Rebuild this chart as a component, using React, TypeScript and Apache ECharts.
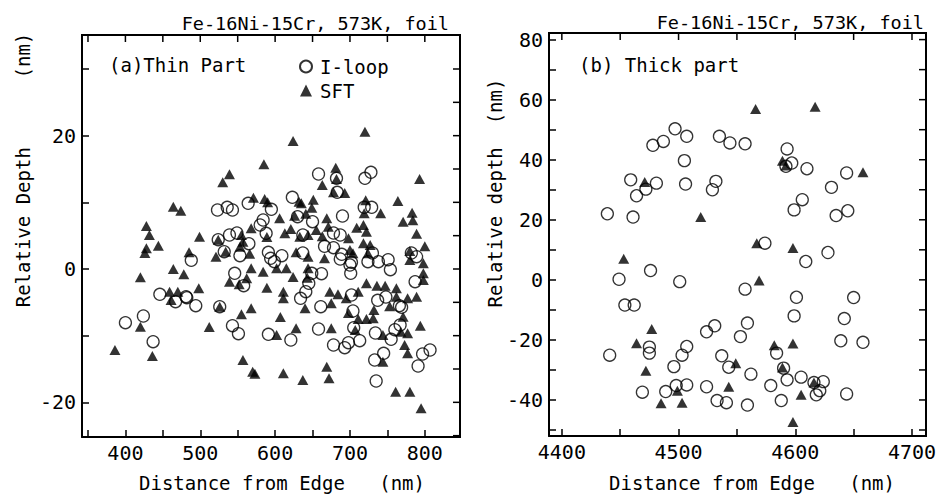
import React, { useEffect, useRef } from "react";
import * as echarts from "echarts";

// ---------- text ----------
const titleText = "Fe-16Ni-15Cr, 573K, foil";
const thinLabel = "(a)Thin Part";
const thickLabel = "(b) Thick part";
const thinYName = "Relative Depth      (nm)";
const thickYName = "Relative depth  (nm)";
const xName = "Distance from Edge   (nm)";
const legendNames = ["I-loop", "SFT"];

// ---------- ticks ----------
const thinXTicks = [350, 400, 450, 500, 550, 600, 650, 700, 750, 800];
const thinXLabels = [400, 500, 600, 700, 800];
const thinYTicksLeft = [-20, -10, 0, 10, 20, 30];
const thinYTicksRight = [-25, -20, -15, -10, -5, 0, 5, 10, 15, 20, 25, 30];
const thinYLabels = [-20, 0, 20];
const thickXTicks = [4400, 4450, 4500, 4550, 4600, 4650, 4700];
const thickXLabels = [4400, 4500, 4600, 4700];
const thickYTicks = [-50, -40, -30, -20, -10, 0, 10, 20, 30, 40, 50, 60, 70, 80];
const thickYLabels = [-40, -20, 0, 20, 40, 60, 80];

// ---------- data: (a) thin part ----------
const thinSFT = [
  [720, 20.6], [624, 19.2], [585, 15.7], [539, 14.2], [530, 13.0], [681, 15.2], [682, 13.5], [663, 12.6], [793, 13.5],
  [571, 10.7], [586, 10.5], [590, 10.0], [632, 10.1], [651, 10.4], [649, 9.2], [678, 11.5], [693, 11.4], [721, 10.3], [764, 10.2],
  [464, 9.35], [474, 8.75], [626, 8.0], [606, 7.6], [741, 8.35], [719, 8.35], [783, 8.45], [669, 7.6], [771, 7.1], [784, 7.3], [641, 8.3],
  [428, 6.45], [432, 5.1], [499, 4.85], [568, 6.1], [621, 6.0], [613, 5.35], [633, 4.85], [655, 5.85], [671, 6.35], [709, 6.2],
  [718, 6.6], [722, 5.6], [698, 4.6], [789, 5.3], [589, 4.8], [644, 5.1], [555, 5.1], [635, 9.85], [663, 4.9],
  [800, 3.4], [428, 3.1], [444, 3.5], [426, 2.4], [553, 3.35], [557, 4.1], [566, 2.3], [485, 2.5], [521, 1.85], [628, 2.5],
  [644, 1.85], [666, 1.6], [718, 3.85], [727, 3.6], [700, 2.85], [704, 2.35], [724, 2.35], [780, 2.7], [780, 1.35], [534, 2.6], [524, 4.4],
  [568, 0.1], [602, 0.1], [615, 0.1], [644, 0.1], [464, 0.0], [478, -0.8], [539, -1.9], [552, -2.3], [562, -1.4], [584, -0.4],
  [624, -1.2], [643, -1.3], [589, -2.8], [611, -3.4], [611, -4.4], [498, -2.9], [420, -1.25], [459, -3.4], [470, -3.4], [461, -4.65],
  [640, -5.9], [568, -5.9], [555, -6.8], [607, -7.2], [512, -8.7], [628, -8.9], [420, -8.65], [386, -12.15], [436, -13.05], [557, -13.65],
  [570, -15.4], [573, -15.7], [611, -15.65], [637, -16.65], [669, -14.65], [672, -16.4], [602, -9.9], [675, -8.9], [675, -5.15], [673, -3.4],
  [684, -3.8], [695, -4.4], [698, -6.6], [711, -3.4], [707, -9.15], [711, -7.5], [722, -7.5], [731, -7.4], [732, -6.15], [722, -2.15],
  [736, -2.5], [747, -2.5], [744, -9.9], [744, -13.9], [753, -5.6], [762, -2.9], [762, -4.15], [761, -18.4], [780, -18.4], [771, -7.15],
  [768, -9.4], [777, -9.65], [773, -11.4], [777, -12.65], [777, -4.4], [789, -4.15], [794, -8.5], [795, -20.9], [798, 0.85], [798, -0.65],
  [798, -1.65], [526, -5.65],
];

const thinILoop = [
  [658, 14.25], [720, 13.6], [728, 14.5], [682, 13.6], [623, 10.75], [683, 11.5], [523, 8.85], [536, 9.25], [543, 8.85], [564, 9.85],
  [595, 8.95], [719, 9.25], [729, 9.25], [584, 7.35], [580, 6.6], [690, 7.95], [630, 7.85], [650, 7.1], [524, 4.4], [539, 5.1],
  [549, 5.4], [565, 3.8], [588, 5.35], [637, 5.1], [666, 3.4], [678, 3.2], [687, 5.1], [678, 5.4], [689, 2.2], [730, 2.4],
  [751, 1.4], [738, 1.1], [782, 2.4], [789, 1.85], [702, 1.0], [532, 2.6], [553, 2.0], [591, 2.5], [594, 1.6], [609, 2.0],
  [599, 1.1], [637, 2.4], [488, 1.3], [546, -0.65], [558, -2.5], [649, -0.65], [645, -2.15], [641, -3.4], [634, -4.4], [661, -5.65],
  [481, -4.15], [494, -5.5], [526, -5.65], [543, -8.5], [551, -9.7], [591, -9.8], [658, -9.0], [687, 1.5], [724, 1.1], [754, -0.1],
  [701, -0.65], [662, -0.7], [787, -1.9], [702, -3.9], [737, -4.7], [748, -4.2], [766, -5.5], [704, -6.3], [705, -8.8], [734, -9.6],
  [760, -9.1], [769, -5.75], [767, -8.4], [400, -8.05], [424, -7.05], [437, -10.9], [446, -3.8], [467, -4.9], [482, -4.3], [621, -10.65],
  [678, -11.4], [693, -11.8], [698, -11.05], [713, -10.75], [745, -12.65], [733, -13.65], [735, -16.8], [755, -10.55], [797, -12.75], [807, -12.15],
  [791, -14.55], [700, 0.6],
];

// ---------- data: (b) thick part ----------
const thickSFT = [
  [4566, 56.9], [4617, 57.6], [4589, 39.7], [4592, 38.1], [4658, 35.8], [4471, 32.6], [4519, 20.9], [4567, 12.2], [4598, 10.6],
  [4453, 7.0], [4569, -0.2], [4477, -16.4], [4464, -21.1], [4582, -21.8], [4598, -21.2], [4472, -30.3], [4549, -27.8], [4589, -29.2],
  [4543, -35.6], [4499, -36.9], [4485, -41.1], [4503, -40.9], [4605, -38.3], [4616, -34.2], [4598, -47.3],
];

const thickILoop = [
  [4497, 50.3], [4507, 47.8], [4535, 47.8], [4544, 45.6], [4557, 45.3], [4487, 46.1], [4478, 44.8], [4505, 39.7], [4593, 43.6],
  [4597, 38.9], [4592, 37.8], [4610, 37.0], [4644, 35.6], [4459, 33.3], [4481, 32.2], [4472, 30.2], [4464, 28.0], [4506, 31.9],
  [4532, 32.8], [4529, 30.0], [4631, 30.8], [4439, 22.0], [4461, 20.9], [4599, 23.3], [4606, 26.7], [4635, 21.4], [4645, 23.0],
  [4574, 12.2], [4628, 9.1], [4609, 6.1], [4449, 0.2], [4476, 3.1], [4501, -0.6], [4557, -3.1], [4454, -8.4], [4462, -8.4],
  [4601, -5.8], [4650, -5.9], [4599, -12.0], [4642, -12.9], [4559, -14.4], [4531, -15.3], [4524, -17.3], [4553, -18.9], [4639, -20.3],
  [4658, -20.8], [4475, -22.4], [4475, -24.4], [4441, -25.1], [4507, -22.2], [4503, -25.1], [4537, -25.3], [4496, -28.9], [4543, -29.1],
  [4590, -29.4], [4562, -31.4], [4579, -35.2], [4584, -24.4], [4593, -33.3], [4605, -32.4], [4498, -35.2], [4507, -35.0], [4524, -35.6],
  [4616, -34.2], [4624, -33.9], [4621, -36.9], [4618, -38.3], [4644, -38.0], [4469, -37.4], [4489, -37.2], [4533, -40.2], [4541, -40.9],
  [4559, -41.7], [4588, -40.2],
];

const FONT = "'DejaVu Sans Mono', 'Liberation Mono', monospace";
const FS = 19;
const TICK_LEN = 7;

function axis(gridIndex: number, position: string, min: number, max: number, ticks: number[], labels: number[]) {
  return {
    type: "value",
    gridIndex,
    position,
    min,
    max,
    axisLine: { show: true, onZero: false, lineStyle: { color: "#000", width: 2 } },
    axisTick: { show: true, inside: true, length: TICK_LEN, customValues: ticks, lineStyle: { color: "#000", width: 1.5 } },
    axisLabel: {
      show: true,
      customValues: labels,
      color: "#000",
      fontSize: 20,
      fontFamily: FONT,
      margin: 6,
      formatter: (v: number) => String(v),
    },
    splitLine: { show: false },
  };
}

function scatter(name: string, idx: number, data: number[][]) {
  const tri = name === "SFT";
  return {
    type: "scatter",
    name,
    xAxisIndex: idx,
    yAxisIndex: idx,
    data,
    symbol: tri ? "triangle" : "circle",
    symbolSize: tri ? [11, 10] : 12,
    itemStyle: tri ? { color: "#000" } : { color: "rgba(0,0,0,0)", borderColor: "#000", borderWidth: 1.3 },
    emphasis: { disabled: true },
    silent: true,
  };
}

// top and right edges of a panel's frame, with inward ticks, placed through the panel's own scales
function frame(idx: number, xMin: number, yMin: number, topTicks: number[], rightTicks: number[]) {
  return {
    type: "custom",
    name: "frame" + idx,
    xAxisIndex: idx,
    yAxisIndex: idx,
    data: [[xMin, yMin]],
    silent: true,
    clip: false,
    z: 5,
    renderItem: (params: any, api: any) => {
      const cs = params.coordSys;
      const right = cs.x + cs.width;
      const top = cs.y;
      const bottom = cs.y + cs.height;
      const strong = { stroke: "#000", lineWidth: 2 };
      const thin = { stroke: "#000", lineWidth: 1.5 };
      const children: any[] = [
        { type: "line", shape: { x1: cs.x - 1, y1: top, x2: right + 1, y2: top }, style: strong },
        { type: "line", shape: { x1: right, y1: top, x2: right, y2: bottom + 1 }, style: strong },
      ];
      topTicks.forEach((v) => {
        const p = api.coord([v, yMin]);
        children.push({ type: "line", shape: { x1: p[0], y1: top, x2: p[0], y2: top + TICK_LEN }, style: thin });
      });
      rightTicks.forEach((v) => {
        const p = api.coord([xMin, v]);
        children.push({ type: "line", shape: { x1: right, y1: p[1], x2: right - TICK_LEN, y2: p[1] }, style: thin });
      });
      return { type: "group", children };
    },
  };
}

function txt(text: string, x: number, y: number, align: string, rotation = 0, fontSize = FS) {
  return {
    type: "text",
    x,
    y,
    rotation,
    style: { text, fill: "#000", font: `${fontSize}px ${FONT}`, align, verticalAlign: "middle" },
  };
}

export default function App() {
  const ref = useRef<HTMLDivElement>(null);
  useEffect(() => {
    if (!ref.current) return;
    const chart = echarts.init(ref.current, undefined, { renderer: "svg" });
    chart.setOption({
      animation: false,
      grid: [
        { left: 82, top: 35, width: 378, height: 402 },
        { left: 549, top: 33, width: 377, height: 403 },
      ],
      xAxis: [
        axis(0, "bottom", 342, 847, thinXTicks, thinXLabels),
        axis(1, "bottom", 4389, 4712, thickXTicks, thickXLabels),
      ],
      yAxis: [
        axis(0, "left", -25.2, 35.1, thinYTicksLeft, thinYLabels),
        axis(1, "left", -52, 82.2, thickYTicks, thickYLabels),
      ],
      legend: {
        data: legendNames,
        orient: "vertical",
        left: 294,
        top: 52,
        itemWidth: 12,
        itemHeight: 12,
        itemGap: 5,
        selectedMode: false,
        textStyle: { color: "#000", fontSize: FS, fontFamily: FONT, padding: [0, 0, 0, 3] },
      },
      series: [
        scatter("SFT", 0, thinSFT),
        scatter("I-loop", 0, thinILoop),
        scatter("SFT", 1, thickSFT),
        scatter("I-loop", 1, thickILoop),
        frame(0, 342, -25.2, thinXTicks, thinYTicksRight),
        frame(1, 4389, -52, thickXTicks, thickYTicks),
      ],
      graphic: [
        txt(titleText, 449, 23, "right", 0, 18.5),
        txt(titleText, 924, 22, "right", 0, 18.5),
        txt(thinLabel, 109, 65, "left"),
        txt(thickLabel, 579, 65, "left"),
        txt(thinYName, 23, 170, "center", Math.PI / 2),
        txt(thickYName, 495, 193, "center", Math.PI / 2),
        txt(xName, 282, 483, "center"),
        txt(xName, 752, 483, "center"),
      ],
    });
    return () => chart.dispose();
  }, []);
  return (
    <div style={{ position: "fixed", left: 0, top: 0, width: 940, height: 495, background: "#fff" }}>
      <div ref={ref} style={{ width: 940, height: 495 }} />
    </div>
  );
}
